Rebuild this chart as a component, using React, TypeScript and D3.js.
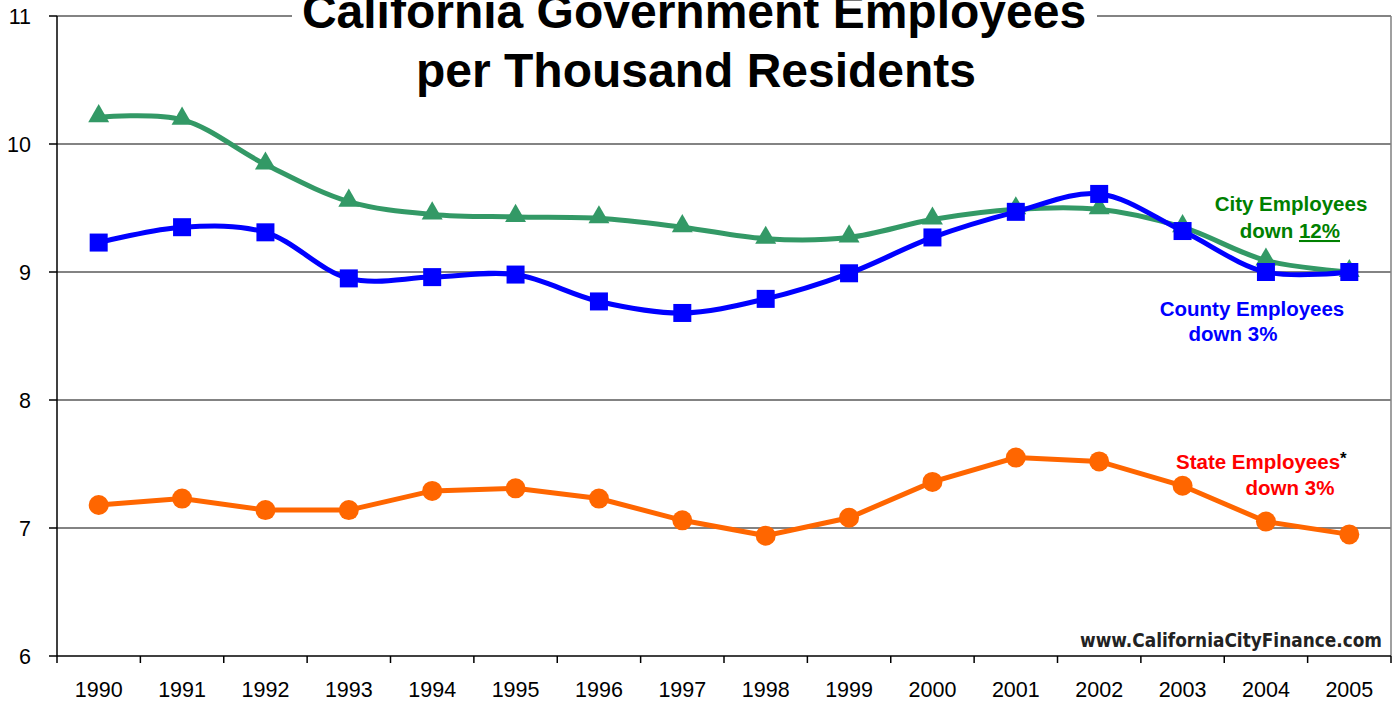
import React from "react";
import * as d3 from "d3";

const years = ["1990","1991","1992","1993","1994","1995","1996","1997","1998","1999","2000","2001","2002","2003","2004","2005"];
const cityValues = [10.21,10.19,9.84,9.55,9.45,9.43,9.42,9.35,9.26,9.27,9.41,9.49,9.49,9.35,9.09,9.0];
const countyValues = [9.23,9.35,9.31,8.95,8.96,8.98,8.77,8.68,8.79,8.99,9.27,9.47,9.61,9.32,9.0,9.0];
const stateValues = [7.18,7.23,7.14,7.14,7.29,7.31,7.23,7.06,6.94,7.08,7.36,7.55,7.52,7.33,7.05,6.95];
const yTicks = [6,7,8,9,10,11];

const W = 1398, H = 702;
const left = 57, right = 1391, top = 16, bottom = 656;

export default function App() {
  const x = d3.scaleBand<string>().domain(years).range([left, right]);
  const y = d3.scaleLinear().domain([6, 11]).range([bottom, top]);
  const cx = (i: number) => (x(years[i]) as number) + x.bandwidth() / 2;

  const smooth = d3.line<number>().x((_, i) => cx(i)).y(v => y(v)).curve(d3.curveCatmullRom.alpha(0.5));
  const straight = d3.line<number>().x((_, i) => cx(i)).y(v => y(v));

  const green = "#339966", blue = "#0000FF", orange = "#FF6600";
  const font = "'Liberation Sans', Arial, sans-serif";
  const tri = d3.symbol().type(d3.symbolTriangle).size(190)();

  return (
    <svg width={W} height={H} style={{ position: "absolute", left: 0, top: 0, background: "#fff" }} fontFamily={font}>
      {/* gridlines */}
      {yTicks.filter(t => t !== 6).map(t => (
        <line key={t} x1={left} x2={right} y1={y(t)} y2={y(t)} stroke="#5a5a5a" strokeWidth={1.5} />
      ))}
      {/* right border */}
      <line x1={right} x2={right} y1={top} y2={bottom} stroke="#808080" strokeWidth={1.5} />
      {/* axes */}
      <line x1={left} x2={left} y1={top} y2={bottom} stroke="#000" strokeWidth={1.5} />
      <line x1={left} x2={right} y1={bottom} y2={bottom} stroke="#000" strokeWidth={1.5} />
      {yTicks.map(t => (
        <g key={t}>
          <line x1={left - 8} x2={left} y1={y(t)} y2={y(t)} stroke="#000" strokeWidth={1.5} />
          <text x={31} y={y(t) + 8} textAnchor="end" fontSize={21.5}>{t}</text>
        </g>
      ))}
      {years.map((yr, i) => (
        <g key={yr}>
          <line x1={(x(yr) as number)} x2={(x(yr) as number)} y1={bottom} y2={bottom + 7} stroke="#000" strokeWidth={1.5} />
          <text x={cx(i)} y={697} textAnchor="middle" fontSize={21.5}>{yr}</text>
        </g>
      ))}
      <line x1={right} x2={right} y1={bottom} y2={bottom + 7} stroke="#000" strokeWidth={1.5} />

      {/* title */}
      <rect x={292} y={0} width={805} height={30} fill="#fff" />
      <text x={694} y={28} textAnchor="middle" fontSize={48} fontWeight="bold">California Government Employees</text>
      <text x={696} y={87} textAnchor="middle" fontSize={48} fontWeight="bold">per Thousand Residents</text>

      {/* city */}
      <path d={smooth(cityValues) || ""} fill="none" stroke={green} strokeWidth={5} />
      {cityValues.map((v, i) => (
        <path key={i} d={tri || ""} transform={`translate(${cx(i)},${y(v) - 1})`} fill={green} />
      ))}
      {/* county */}
      <path d={smooth(countyValues) || ""} fill="none" stroke={blue} strokeWidth={5} />
      {countyValues.map((v, i) => (
        <rect key={i} x={cx(i) - 9} y={y(v) - 9} width={18} height={18} fill={blue} />
      ))}
      {/* state */}
      <path d={straight(stateValues) || ""} fill="none" stroke={orange} strokeWidth={5} />
      {stateValues.map((v, i) => (
        <circle key={i} cx={cx(i)} cy={y(v)} r={10} fill={orange} />
      ))}

      {/* labels */}
      <text x={1291} y={211} textAnchor="middle" fontSize={20.5} fontWeight="bold" fill="#008000">City Employees</text>
      <text x={1340} y={238} textAnchor="end" fontSize={20.5} fontWeight="bold" fill="#008000">
        down <tspan textDecoration="underline">12%</tspan>
      </text>
      <text x={1252} y={316} textAnchor="middle" fontSize={20.5} fontWeight="bold" fill={blue}>County Employees</text>
      <text x={1233} y={341} textAnchor="middle" fontSize={20.5} fontWeight="bold" fill={blue}>down 3%</text>
      <text x={1176} y={469} fontSize={20.5} fontWeight="bold" fill="#FF0000">State Employees<tspan fill="#000" dy={-5} fontSize={17}>*</tspan></text>
      <text x={1290} y={495} textAnchor="middle" fontSize={20.5} fontWeight="bold" fill="#FF0000">down 3%</text>

      {/* watermark */}
      <text x={1080} y={647} fontSize={19} fontWeight="bold" fill="#222" fontFamily="'DejaVu Sans', sans-serif" textLength={302} lengthAdjust="spacingAndGlyphs">www.CaliforniaCityFinance.com</text>
    </svg>
  );
}
